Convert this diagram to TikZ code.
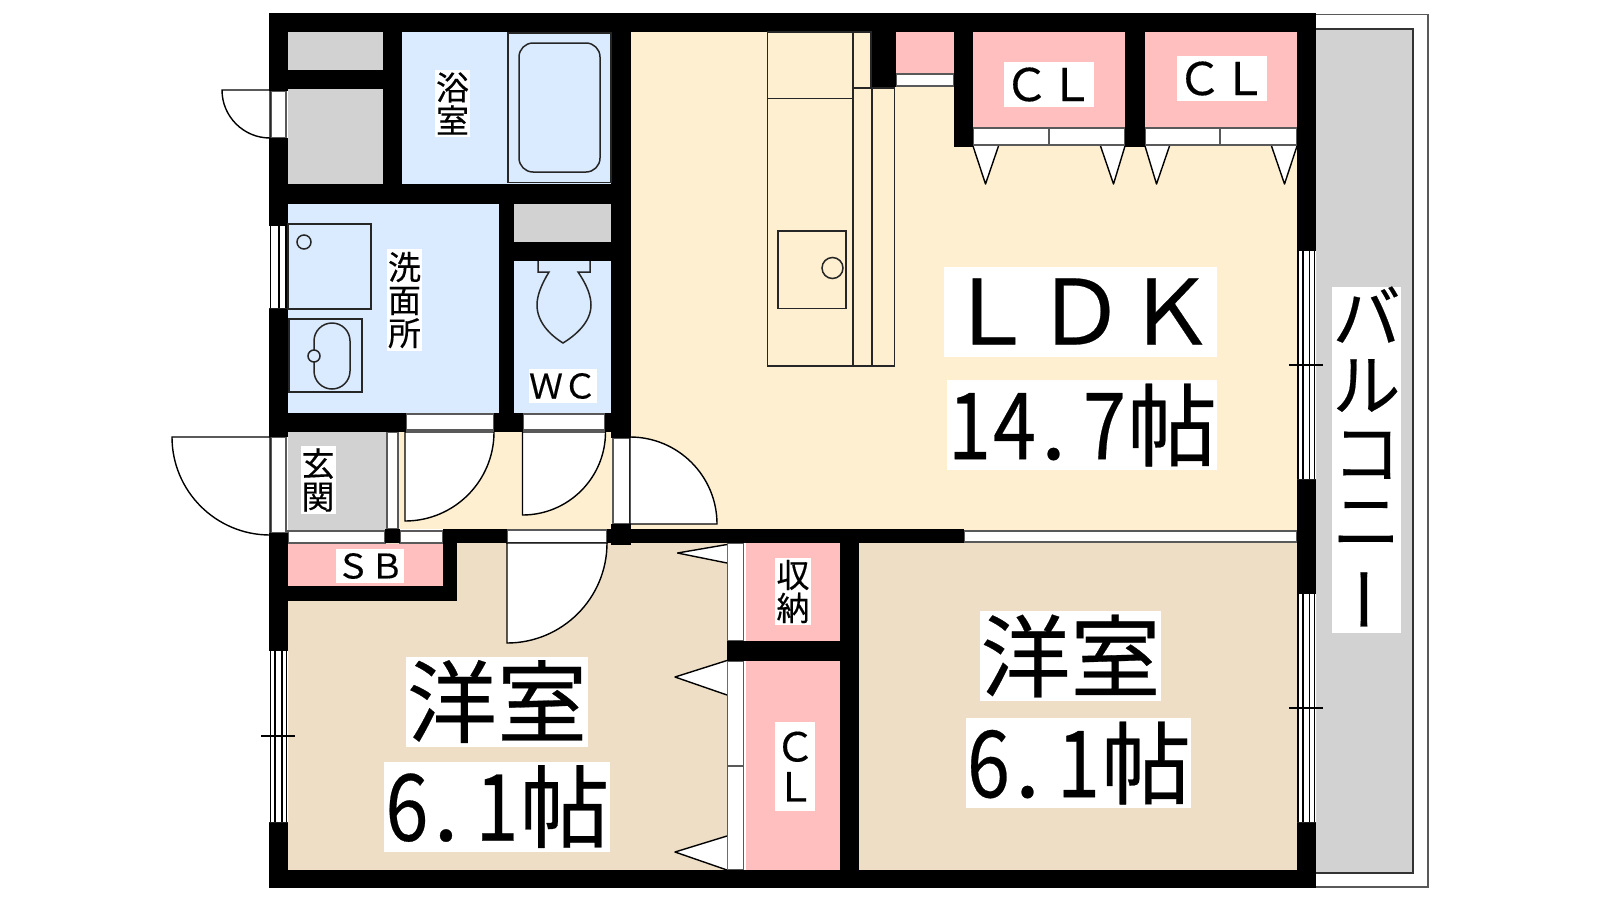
\documentclass[tikz,border=0pt]{standalone}
\usepackage{fontspec}
\usepackage{amsmath, xcolor}
\newfontfamily\jpfont[FakeBold=0.3]{Noto Sans CJK JP}
\newcommand{\jpsize}[1]{\jpfont\fontsize{#1}{#1}\selectfont}
\newcommand{\hc}[1]{\makebox[45pt]{\scalebox{0.86}[1.03]{#1}}}
\newcommand{\hd}{\makebox[45pt][l]{\hspace{4pt}.}}
\definecolor{wetblue}{HTML}{DAEBFF}
\definecolor{ldkcream}{HTML}{FDEFCF}
\definecolor{closetpink}{HTML}{FFBFBF}
\definecolor{roombeige}{HTML}{EEDEC5}
\definecolor{floorgray}{HTML}{D2D2D2}
\tikzset{
  lbl/.style={fill=white,inner sep=0pt,align=center},
  frm/.style={fill=white,draw=black!65,line width=1.2pt},
  fix/.style={draw=black!85,line width=1.5pt},
  swing/.style={fill=white,draw=black,line width=1.4pt},
}
\begin{document}
\begin{tikzpicture}[x=1pt,y=-1pt]
\useasboundingbox (0,0) rectangle (1600,900);
\fill[white] (0,0) rectangle (1600,900);
\foreach \xa/\ya/\xb/\yb in {288/32/383/70,288/89/383/184,514/204/611/242,288/432/387/530,1316/29/1413/873}
  \fill[floorgray] (\xa,\ya) rectangle (\xb,\yb);
\foreach \xa/\ya/\xb/\yb in {402/32/611/184,288/204/499/413,514/261/611/413}
  \fill[wetblue] (\xa,\ya) rectangle (\xb,\yb);
\foreach \xa/\ya/\xb/\yb in {631/32/1297/530,398/432/613/529}
  \fill[ldkcream] (\xa,\ya) rectangle (\xb,\yb);
\foreach \xa/\ya/\xb/\yb in {288/543/727/870,859/543/1297/870}
  \fill[roombeige] (\xa,\ya) rectangle (\xb,\yb);
\foreach \xa/\ya/\xb/\yb in {896/32/954/73,973/32/1125/127,1145/32/1297/127,288/544/443/586,745.5/543/840/641,745.5/661/840/870}
  \fill[closetpink] (\xa,\ya) rectangle (\xb,\yb);
\draw[black!65,line width=1.4pt] (1316,14.4) -- (1428,14.4) -- (1428,887) -- (1316,887);
\draw[black!80,line width=1.6pt] (1316,29) -- (1413,29) -- (1413,873) -- (1316,873);
\foreach \xa/\ya/\xb/\yb in {271/91/286/138,271/437/286/533,387/432/398/529,406/414/494/430,523/414/605/430,613/438/630/524,
  288/531/385/543,400/531/443/543,507/530/607/543,964/531/1297/542,896/74/954/86,973/128/1049/145,1049/128/1125/145,
  1145/128/1220/145,1220/128/1297/145,727.5/543/743.5/641,727.5/661/743.5/766,727.5/766/743.5/870}
  \draw[frm] (\xa,\ya) rectangle (\xb,\yb);
\foreach \hx/\hy/\rad/\ang in {270/90/48/90,270/437/98/90,405/432/89/0,522.5/432/83/0,630/524/87/-90,507/543/100/0}
  \draw[swing] (\hx,\hy) -- ++(\ang:\rad) arc (\ang:\ang+90:\rad) -- cycle;
\foreach \xa/\ya/\xb/\yb/\xc/\yc in {973/146/998.5/146/985.5/184,1100.5/146/1125/146/1113.5/184,1145/146/1169.5/146/1156.5/184,1271.5/146/1297/146/1284.5/184,
  727/544.5/727/563/677.5/553,727/660.5/727/695/675/677,727/836/727/870/675/852}
  \draw[swing,line join=round] (\xa,\ya) -- (\xc,\yc) -- (\xb,\yb);
\foreach \xa/\ya/\xb/\yb in {269/13/1316/32,269/870/1316/888,269/13/288/91,269/138/288/226,269/308/288/437,269/533/288/651,269/822/288/888,
  1297/13/1316/251,1297/479/1316/594,1297/822/1316/888,383/32/402/204,269/70/383/89,269/184/631/204,611/32/631/438,499/204/514/413,514/242/611/261,
  269/413/406/432,494/413/523/432,605/413/631/432,611/524/631/545,443/529/507/543,607/529/964/543,443/529/457/601,269/586/457/601,385/529/400/543,
  840/529/859/888,727/641/840/661,871/32/896/87,954/32/973/146.5,1125/32/1145/146.5}
  \fill[black] (\xa,\ya) rectangle (\xb,\yb);
\fill[white] (269,226) rectangle (288,308) (269,651) rectangle (288,822) (1297,251) rectangle (1316,479) (1297,594) rectangle (1316,822);
\foreach \xw/\ya/\yb in {270.5/226/308,279/226/308,286/226/308,270.5/651/822,275/651/822,282/651/822,286.5/651/822,
  1298/251/479,1303/251/479,1309.5/251/479,1314.5/251/479,1298/594/822,1303/594/822,1309.5/594/822,1314.5/594/822}
  \draw[black,line width=1.4pt] (\xw,\ya) -- (\xw,\yb);
\foreach \ya/\xa/\xb/\xc/\xd in {736/261/295/275/282,365/1289/1323/1303/1309.5,708/1289/1323/1303/1309.5} {
  \draw[black,line width=1.3pt] (\xa,\ya) -- (\xb,\ya);
  \draw[black,line width=1.4pt] (\xc,\ya-8) -- (\xc,\ya) (\xd,\ya) -- (\xd,\ya+9);
}
\draw[fix] (508,33) rectangle (611,182.5);
\draw[fix,rounded corners=14pt] (519,43) rectangle (600,172);
\draw[fix] (288,224) rectangle (371,309);
\draw[fix] (304,242) circle (7);
\draw[fix] (289,319) rectangle (362,392);
\draw[fix,rounded corners=18pt,fill=wetblue] (314,323) rectangle (350,389);
\draw[fix,fill=wetblue] (314,356) circle (6);
\draw[fix] (538,261) -- (538,272) -- (549,272) .. controls (541,285) and (537,296) .. (537,305)
  .. controls (537,322) and (550,335) .. (563,343) .. controls (576,335) and (591,322) .. (591,305)
  .. controls (591,296) and (587,285) .. (578,272) -- (590,272) -- (590,261);
\draw[fix] (767.5,32) rectangle (853,366);
\draw[fix] (767.5,98.5) -- (853,98.5);
\draw[fix] (853,32) -- (871,32) -- (871,88);
\draw[fix] (853,88) rectangle (872,366);
\draw[fix] (872,88) rectangle (894.5,366);
\draw[fix] (778,231) rectangle (846,308.5);
\draw[fix] (832.5,268) circle (10.5);
\node[lbl,minimum width=35pt,minimum height=67pt,font=\jpsize{33}] (bathlbl) at (452.5,103.5) {浴\\室};
\node[lbl,minimum width=35pt,minimum height=102pt,font=\jpsize{33}] (washlbl) at (404.5,300) {洗\\面\\所};
\node[lbl,minimum width=68pt,minimum height=34pt,font=\jpsize{34}] (wclbl) at (563,386) {ＷＣ};
\node[lbl,minimum width=35pt,minimum height=68pt,font=\jpsize{33}] (entrylbl) at (318,480) {玄\\関};
\node[lbl,minimum width=68pt,minimum height=34pt,font=\jpsize{34}] (sblbl) at (370,566) {ＳＢ};
\node[lbl,minimum width=90pt,minimum height=44.5pt,font=\jpsize{45}] (cla) at (1049,84.5) {ＣＬ};
\node[lbl,minimum width=90pt,minimum height=44.5pt,font=\jpsize{45}] (clb) at (1222,78.5) {ＣＬ};
\node[lbl,minimum width=273pt,minimum height=90pt,font=\jpsize{90}] (ldklbl) at (1080.5,311.5) {ＬＤＫ};
\node[lbl,minimum width=270pt,minimum height=90pt,font=\jpsize{90}] (ldksize) at (1082,425) {\hc{1}\hc{4}\hd\hc{7}帖};
\node[lbl,minimum width=35.5pt,minimum height=67.5pt,font=\jpsize{33}] (storelbl) at (793,591.5) {収\\納};
\node[lbl,minimum width=35.5pt,minimum height=89pt,font=\jpsize{40}] (clc) at (795,766.5) {Ｃ\\Ｌ};
\node[lbl,minimum width=182pt,minimum height=90pt,font=\jpsize{90}] (roomalbl) at (497,701.5) {洋室};
\node[lbl,minimum width=225.5pt,minimum height=90pt,font=\jpsize{90}] (roomasize) at (497,806.5) {\hc{6}\hd\hc{1}帖};
\node[lbl,minimum width=181pt,minimum height=90pt,font=\jpsize{90}] (roomblbl) at (1070.5,656) {洋室};
\node[lbl,minimum width=225pt,minimum height=90pt,font=\jpsize{90}] (roombsize) at (1078.5,763) {\hc{6}\hd\hc{1}帖};
\node[lbl,minimum width=69pt,minimum height=340pt,font=\jpsize{68}] (balclbl) at (1366.5,460) {バ\\ル\\コ\\ニ\\\hspace*{-28pt}\rotatebox[origin=c]{-90}{ー}};
\end{tikzpicture}
\end{document}
